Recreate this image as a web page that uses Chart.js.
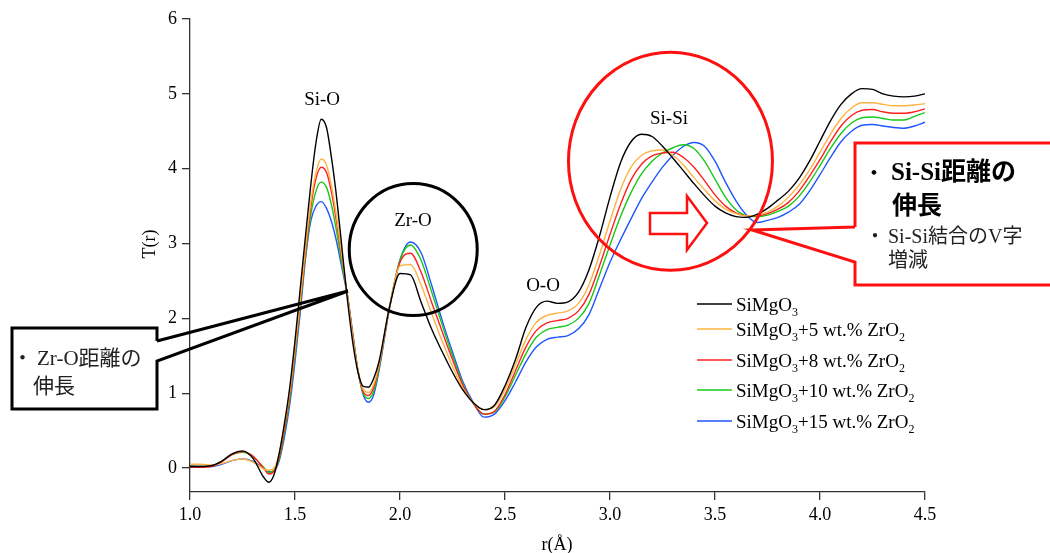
<!DOCTYPE html>
<html>
<head>
<meta charset="UTF-8">
<script src="https://cdn.jsdelivr.net/npm/chart.js@4.4.0/dist/chart.umd.min.js"></script>
<style>
  body { margin: 0; background: #fff; }
  #wrap { width: 1050px; height: 553px; }
</style>
</head>
<body>
<div id="wrap"><canvas id="myChart" width="1050" height="553"></canvas></div>
<script>
// r (Å) grid, finer around the Si-O peak
const rVals = [1.00,1.05,1.10,1.15,1.20,1.25,1.30,1.35,
  1.375,1.40,1.425,1.45,1.475,1.50,1.525,1.55,1.575,1.60,1.625,1.65,1.675,1.70,1.725,1.75,1.775,1.80,1.825,1.85,1.875,1.90,
  1.95,2.00,2.05,2.10,2.15,2.20,2.25,2.30,2.35,2.40,2.45,2.50,2.55,2.60,2.65,2.70,2.75,2.80,2.85,2.90,
  2.95,3.00,3.05,3.10,3.15,3.20,3.25,3.30,3.35,3.40,3.45,3.50,3.55,3.60,3.65,3.70,3.75,3.80,3.85,3.90,
  3.95,4.00,4.05,4.10,4.15,4.20,4.25,4.30,4.35,4.40,4.45,4.50];

const tBase = [0.02,0.02,0.03,0.09,0.19,0.23,0.13,-0.12,
  -0.19,-0.09,0.2,0.6,1.08,1.7,2.4,3.1,3.78,4.35,4.66,4.55,4.12,3.57,2.9,2.24,1.68,1.28,1.09,1.08,1.2,1.42,
  2.15,2.6,2.58,2.22,1.86,1.56,1.28,1.04,0.87,0.78,0.84,1.1,1.45,1.88,2.15,2.23,2.2,2.22,2.35,2.65,
  3.1,3.62,4.08,4.36,4.46,4.43,4.3,4.14,3.97,3.8,3.64,3.5,3.41,3.36,3.35,3.39,3.47,3.58,3.7,3.87,
  4.1,4.37,4.64,4.86,5.0,5.07,5.06,5.0,4.97,4.96,4.97,5.0];

const tZr5 = [0.05,0.05,0.04,0.06,0.1,0.12,0.08,-0.01,
  -0.03,0.0,0.2,0.58,1.02,1.6,2.25,2.95,3.55,3.95,4.13,4.05,3.75,3.32,2.8,2.3,1.75,1.3,1.05,1.01,1.12,1.38,
  2.15,2.7,2.72,2.45,2.07,1.7,1.36,1.06,0.87,0.78,0.82,1.05,1.38,1.72,1.95,2.04,2.07,2.1,2.2,2.45,
  2.85,3.3,3.72,4.02,4.18,4.24,4.25,4.18,4.05,3.88,3.72,3.57,3.46,3.4,3.37,3.38,3.42,3.5,3.62,3.78,
  3.98,4.22,4.46,4.67,4.81,4.88,4.88,4.86,4.84,4.84,4.85,4.87];

const tZr8 = [0.01,0.01,0.02,0.08,0.18,0.22,0.16,0.0,
  -0.08,-0.04,0.15,0.52,0.97,1.55,2.2,2.88,3.48,3.87,4.02,3.95,3.67,3.25,2.77,2.3,1.77,1.3,1.02,0.97,1.08,1.36,
  2.15,2.75,2.87,2.62,2.22,1.83,1.45,1.1,0.86,0.72,0.76,0.98,1.3,1.62,1.84,1.94,1.97,2.0,2.1,2.32,
  2.7,3.12,3.52,3.85,4.06,4.17,4.21,4.22,4.15,4.02,3.84,3.65,3.5,3.41,3.37,3.37,3.4,3.46,3.55,3.7,
  3.9,4.12,4.36,4.57,4.71,4.78,4.79,4.76,4.74,4.74,4.76,4.8];

const tZr10 = [0.02,0.02,0.03,0.09,0.18,0.21,0.15,0.01,
  -0.06,-0.03,0.12,0.48,0.92,1.5,2.15,2.83,3.38,3.7,3.82,3.75,3.5,3.13,2.7,2.3,1.78,1.3,1.0,0.93,1.03,1.33,
  2.15,2.78,2.98,2.78,2.36,1.92,1.5,1.12,0.86,0.72,0.75,0.95,1.24,1.53,1.75,1.85,1.88,1.91,2.0,2.2,
  2.58,2.98,3.36,3.68,3.93,4.1,4.21,4.28,4.32,4.27,4.1,3.86,3.62,3.45,3.37,3.36,3.38,3.43,3.5,3.63,
  3.82,4.04,4.27,4.47,4.61,4.68,4.69,4.67,4.65,4.65,4.7,4.75];

const tZr15 = [0.03,0.02,0.02,0.05,0.1,0.12,0.09,0.0,
  -0.05,-0.04,0.1,0.42,0.85,1.42,2.08,2.8,3.3,3.5,3.56,3.47,3.28,3.0,2.65,2.3,1.8,1.3,0.98,0.88,0.98,1.3,
  2.13,2.78,3.02,2.88,2.45,1.98,1.55,1.15,0.87,0.68,0.72,0.9,1.15,1.42,1.62,1.72,1.75,1.77,1.86,2.05,
  2.4,2.75,3.05,3.33,3.6,3.82,4.02,4.18,4.3,4.35,4.3,4.1,3.82,3.57,3.38,3.28,3.31,3.35,3.42,3.52,
  3.7,3.92,4.15,4.36,4.5,4.58,4.59,4.57,4.55,4.54,4.57,4.62];

const seriesNames = ['SiMgO3', 'SiMgO3+5 wt.% ZrO2', 'SiMgO3+8 wt.% ZrO2', 'SiMgO3+10 wt.% ZrO2', 'SiMgO3+15 wt.% ZrO2'];
const seriesColors = ['#000000', '#FFB340', '#FF2020', '#18C818', '#1E56FF'];
const seriesData = [tBase, tZr5, tZr8, tZr10, tZr15];

const xTicks = [1.0, 1.5, 2.0, 2.5, 3.0, 3.5, 4.0, 4.5];
const yTicks = [0, 1, 2, 3, 4, 5, 6];

const peakNames = ['Si-O', 'Zr-O', 'O-O', 'Si-Si'];
const peakR = [1.629, 2.062, 2.681, 3.281];
const peakT = [4.92, 3.30, 2.43, 4.66];

const SERIF = '"Liberation Serif", "Noto Sans CJK JP"';

// digits right after a letter are drawn as subscripts (SiMgO3, ZrO2)
function drawChem(c, text, x, y, size) {
  let prev = '', prevSub = false;
  for (const ch of text) {
    const sub = /[0-9]/.test(ch) && (/[A-Za-z]/.test(prev) || prevSub);
    c.font = (sub ? Math.round(size * 0.65) : size) + 'px ' + SERIF;
    c.fillText(ch, x, sub ? y + size * 0.28 : y);
    x += c.measureText(ch).width;
    prev = ch; prevSub = sub;
  }
}

const annotPlugin = {
  id: 'annot',
  afterDatasetsDraw(chart) {
    const c = chart.ctx;
    const xs = chart.scales.x, ys = chart.scales.y;
    const px = v => xs.getPixelForValue(v), py = v => ys.getPixelForValue(v);
    c.save();

    // peak names
    c.fillStyle = '#000';
    c.font = '19px ' + SERIF;
    c.textAlign = 'center';
    c.textBaseline = 'middle';
    peakNames.forEach((t, i) => c.fillText(t, px(peakR[i]), py(peakT[i])));

    // axis titles
    c.font = '18px ' + SERIF;
    c.fillText('r(Å)', 557, 545);
    c.save();
    c.translate(150, 244);
    c.rotate(-Math.PI / 2);
    c.fillText('T(r)', 0, 0);
    c.restore();

    // black circle round Zr-O
    c.lineWidth = 3;
    c.strokeStyle = '#000';
    c.beginPath();
    c.ellipse(px(2.063), py(2.92), 64, 66, 0, 0, Math.PI * 2);
    c.stroke();

    // red circle round Si-Si
    c.strokeStyle = '#FF1010';
    c.beginPath();
    c.ellipse(px(3.288), py(4.10), 102, 109, 0, 0, Math.PI * 2);
    c.stroke();

    // hollow arrow
    c.lineWidth = 2.5;
    c.fillStyle = '#fff';
    c.beginPath();
    c.moveTo(650, 213); c.lineTo(687, 213); c.lineTo(687, 196); c.lineTo(707, 223);
    c.lineTo(687, 250); c.lineTo(687, 234); c.lineTo(650, 234); c.closePath();
    c.fill(); c.stroke();

    // red callout
    c.lineWidth = 3;
    c.lineJoin = 'miter';
    c.fillStyle = '#fff';
    c.fillRect(855, 143, 200, 142);
    c.beginPath();
    c.moveTo(855, 227); c.lineTo(855, 143); c.lineTo(1060, 143);
    c.moveTo(1060, 285); c.lineTo(855, 285); c.lineTo(855, 262);
    c.lineTo(752, 230); c.lineTo(855, 227);
    c.stroke();

    // black callout
    c.strokeStyle = '#000';
    c.fillStyle = '#fff';
    c.fillRect(12, 328, 145, 81);
    c.beginPath();
    c.moveTo(157, 341); c.lineTo(157, 328); c.lineTo(12, 328); c.lineTo(12, 409);
    c.lineTo(157, 409); c.lineTo(157, 361); c.lineTo(348, 291); c.lineTo(157, 341);
    c.stroke();

    // callout texts
    c.textAlign = 'left';
    c.textBaseline = 'alphabetic';
    c.fillStyle = '#000';
    c.font = '22px ' + SERIF;
    c.fillText('・', 863, 180);
    c.font = 'bold 25px ' + SERIF;
    c.fillText('Si-Si距離の', 891, 180);
    c.fillText('伸長', 892, 214);
    c.fillStyle = '#222';
    c.font = '20px ' + SERIF;
    c.fillText('・', 865, 243);
    c.fillText('Si-Si結合のV字', 888, 243);
    c.fillText('増減', 888, 267);
    c.font = '21px ' + SERIF;
    c.fillText('・', 12, 365);
    c.fillText('Zr-O距離の', 37, 365);
    c.fillText('伸長', 33, 393);

    // legend
    const legY = [304, 329, 360, 390, 421];
    seriesNames.forEach((name, i) => {
      c.strokeStyle = seriesColors[i];
      c.lineWidth = 1.3;
      c.beginPath();
      c.moveTo(697, legY[i]); c.lineTo(732, legY[i]);
      c.stroke();
      c.fillStyle = '#000';
      drawChem(c, name, 736, legY[i] + 6.5, 19);
    });

    c.restore();
  }
};

const ctx = document.getElementById('myChart').getContext('2d');
const chart = new Chart(ctx, {
  type: 'line',
  data: {
    datasets: seriesData.map((s, i) => ({
      label: seriesNames[i],
      data: rVals.map((r, j) => ({ x: r, y: s[j] })),
      borderColor: seriesColors[i],
      backgroundColor: 'transparent',
      borderWidth: 1.4,
      pointRadius: 0,
      cubicInterpolationMode: 'monotone'
    }))
  },
  options: {
    responsive: false,
    animation: false,
    devicePixelRatio: 1,
    layout: { padding: { left: 0, right: 125, top: 19, bottom: 0 } },
    plugins: { legend: { display: false }, tooltip: { enabled: false } },
    scales: {
      x: {
        type: 'linear', min: 1.0, max: 4.5,
        afterFit: s => { s.height = 61; },
        afterBuildTicks: s => { s.ticks = xTicks.map(v => ({ value: v })); },
        grid: { drawOnChartArea: false, tickLength: 8, color: '#333', lineWidth: 1.3 },
        border: { color: '#333', width: 1.3 },
        ticks: { color: '#000', padding: 4, maxRotation: 0, font: { family: SERIF, size: 18 },
                 callback: v => v.toFixed(1) }
      },
      y: {
        type: 'linear', min: -0.32, max: 6,
        afterFit: s => { s.width = 190; },
        afterBuildTicks: s => { s.ticks = yTicks.map(v => ({ value: v })); },
        grid: { drawOnChartArea: false, tickLength: 8, color: '#333', lineWidth: 1.3 },
        border: { color: '#333', width: 1.3 },
        ticks: { color: '#000', padding: 5, font: { family: SERIF, size: 18 },
                 callback: v => String(v) }
      }
    }
  },
  plugins: [annotPlugin]
});
</script>
</body>
</html>
